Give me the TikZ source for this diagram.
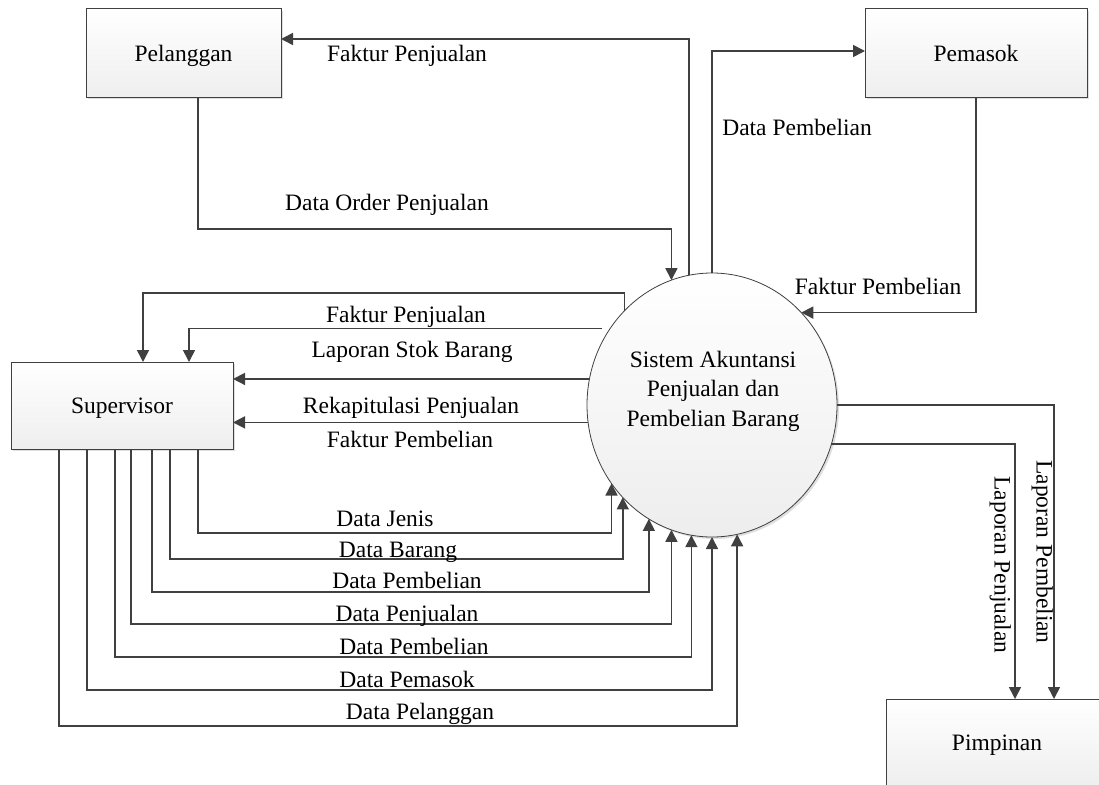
\documentclass[tikz,border=0pt]{standalone}
\usepackage{fontspec}
\setmainfont{Liberation Serif}
\usetikzlibrary{arrows.meta,shapes.geometric,shadows}
\definecolor{ln}{HTML}{404040}
\begin{document}
\begin{tikzpicture}[x=1pt,y=-1pt,
  font=\fontsize{23.5}{29.5}\selectfont,
  entity/.style={rectangle, draw=ln, line width=1pt, top color=white, bottom color=gray!13,
    minimum height=88pt, inner sep=0pt, outer sep=0pt, text height=16pt, text depth=0pt,
    drop shadow={shadow xshift=2pt, shadow yshift=-2pt, opacity=0.25, fill=gray}},
  process/.style={ellipse, draw=ln, line width=0.8pt, top color=white, bottom color=gray!14,
    minimum width=250pt, minimum height=264pt, inner sep=0pt, outer sep=0pt,
    drop shadow={shadow xshift=2pt, shadow yshift=-2pt, opacity=0.25, fill=gray}},
  flow/.style={draw=ln, line width=1.6pt, -{Triangle[length=12pt,width=12pt]}},
  lbl/.style={inner sep=0pt, anchor=base},
  vlbl/.style={inner sep=0pt, anchor=north, rotate=-90}
]
\useasboundingbox (0,0) rectangle (1099,784);
\clip (0,0) rectangle (1099,784);

% entities
\node[entity, minimum width=195pt] (pel) at (183.5,53) {Pelanggan};
\node[entity, minimum width=222pt] (pem) at (976,53) {Pemasok};
\node[entity, minimum width=222pt, minimum height=87pt] (sup) at (122,405.5) {Supervisor};
\node[entity, minimum width=222pt, minimum height=87pt] (pim) at (997,742.5) {Pimpinan};

% process
\node[process] (sys) at (712,405) {};
\node[align=center, inner sep=0pt] (systxt) at (713,391) {Sistem Akuntansi\\Penjualan dan\\Pembelian Barang};

% top flows
\draw[flow] (sys.100.94) |- ([yshift=14pt]pel.east);
\draw[flow] ([xshift=14.5pt]pel.south) |- (sys.108.67 |- 0,229) -- (sys.108.67);
\draw[flow] (sys.90) |- ([yshift=2pt]pem.west);
\draw[flow] (pem.south) |- (sys.46.36);

\node[lbl] (l1) at (407,61) {Faktur Penjualan};
\node[lbl] (l2) at (387,210) {Data Order Penjualan};
\node[lbl] (l3) at (797,135) {Data Pembelian};
\node[lbl] (l4) at (878,294) {Faktur Pembelian};

% flows to supervisor
\draw[flow] (sys.133.83) -- (sys.133.83 |- 0,293) -| ([xshift=21pt]sup.north);
\draw[flow, shorten <=8pt] (sys.143.91) -| ([xshift=67pt]sup.north);
\draw[flow] (sys.168.03) -- (sup.east |- sys.168.03);
\draw[flow] (sys.188.73) -- (sup.east |- sys.188.73);

\node[lbl] (l5) at (406,322) {Faktur Penjualan};
\node[lbl] (l6) at (412,357) {Laporan Stok Barang};
\node[lbl] (l7) at (411,413) {Rekapitulasi Penjualan};
\node[lbl] (l8) at (410,447) {Faktur Pembelian};

% flows from supervisor
\draw[flow] ([xshift=76pt]sup.south) |- (sys.218.38 |- 0,533) -- (sys.218.38);
\draw[flow] ([xshift=48pt]sup.south) |- (sys.226.17 |- 0,559) -- (sys.226.17);
\draw[flow] ([xshift=30pt]sup.south) |- (sys.241.07 |- 0,592) -- (sys.241.07);
\draw[flow] ([xshift=9pt]sup.south) |- (sys.252.72 |- 0,624) -- (sys.252.72);
\draw[flow] ([xshift=-7pt]sup.south) |- (sys.261.27 |- 0,657) -- (sys.261.27);
\draw[flow] ([xshift=-35pt]sup.south) |- (sys.270 |- 0,690) -- (sys.270);
\draw[flow] ([xshift=-63pt]sup.south) |- (sys.281.39 |- 0,726) -- (sys.281.39);

\node[lbl] (b1) at (385,526) {Data Jenis};
\node[lbl] (b2) at (398,557) {Data Barang};
\node[lbl] (b3) at (407,588) {Data Pembelian};
\node[lbl] (b4) at (407,621) {Data Penjualan};
\node[lbl] (b5) at (414,654) {Data Pembelian};
\node[lbl] (b6) at (407,687) {Data Pemasok};
\node[lbl] (b7) at (420,719) {Data Pelanggan};

% flows to pimpinan
\draw[flow] (sys.0) -| ([xshift=57pt]pim.north);
\draw[flow] (sys.-18.57) -| ([xshift=18pt]pim.north);

\node[vlbl] (v1) at (1053,552) {Laporan Pembelian};
\node[vlbl] (v2) at (1011,565) {Laporan Penjualan};
\end{tikzpicture}
\end{document}
